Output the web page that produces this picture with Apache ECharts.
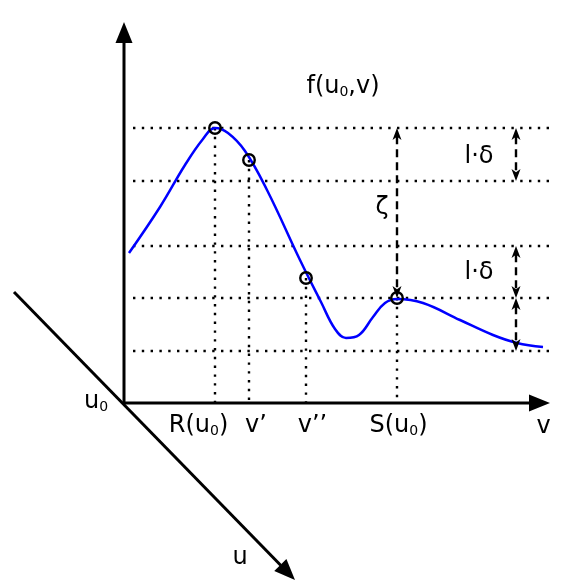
<!DOCTYPE html>
<html><head><meta charset="utf-8">
<script src="https://cdn.jsdelivr.net/npm/echarts@6/dist/echarts.min.js"></script>
<style>html,body{margin:0;padding:0;background:#fff}#c{width:581px;height:581px}</style>
</head><body><div id="c"></div>
<script>
// Diagram units: v to the right of the origin, f upward from the v axis
const curveV = [6,37,62,80,92,105,122,144,177,198,212,223,236,250,262,274,300,337,370,394,420];
const curveF = [150,196,238,264,275,270,252,213,143,101,74,65,68,86,100,104,100,83,68,60,56];

const levels = [275,222,157,105,52];          // dotted horizontal guide levels
const levelFrom = 10, levelTo = 429;

const markV = [92,126,183,274];               // R(u0), v', v'', S(u0)
const markF = [275,243,125,105];

// axis segments [v1,f1,v2,f2] (arrow at second end)
const axisSegs = [[0,0,427,0],[1,0,1,381],[-109,111,172,-177]];
// dashed double arrows [v1,f1,v2,f2]
const dashSegs = [[274,275,274,105],[393,275,393,222],[393,157,393,105],[393,105,393,52]];

// texts
const labelText = ['{m|f(u}{s|0}{m|,v)}','{m|l·δ}','{m|l·δ}','{m|ζ}','{m|u}{s|0}',
                   '{m|R(u}{s|0}{m|)}','{m|v’}','{m|v’’}','{m|S(u}{s|0}{m|)}','{m|v}','{m|u}'];
const labelV = [220,356,356,259,-27,75.5,133,189.5,275.5,420.5,117];
const labelF = [316,246,130,195,1,-23,-23,-23,-23,-24,-155];

const dotted = levels.map(f => [levelFrom, f, levelTo, f])
  .concat(markV.map((v,i) => [v, markF[i], v, 0]));

function segItem(api){
  const p1 = api.coord([api.value(0), api.value(1)]);
  const p2 = api.coord([api.value(2), api.value(3)]);
  return [p1,p2];
}
function head(tip, from, L, W, notch){
  const dx = tip[0]-from[0], dy = tip[1]-from[1];
  const len = Math.hypot(dx,dy); const ux = dx/len, uy = dy/len;
  const nx = -uy, ny = ux;
  const bx = tip[0]-ux*L, by = tip[1]-uy*L;
  const pts = [tip,[bx+nx*W,by+ny*W]];
  if (notch) pts.push([tip[0]-ux*L*notch, tip[1]-uy*L*notch]);
  pts.push([bx-nx*W,by-ny*W]);
  return {pts, base:[tip[0]-ux*L*(notch||1)+ux*0.5, tip[1]-uy*L*(notch||1)+uy*0.5]};
}

const font = 'DejaVu Sans';
const chart = echarts.init(document.getElementById('c'));
chart.setOption({
  animation:false,
  grid:{left:0,right:0,top:0,bottom:0},
  xAxis:{type:'value',min:-123,max:458,show:false},
  yAxis:{type:'value',min:-178,max:403,show:false},
  series:[
    {type:'custom', data:dotted, encode:{x:[0,2],y:[1,3]}, z:1,
     renderItem:(p,api)=>{const [a,b]=segItem(api);
       return {type:'line',shape:{x1:a[0],y1:a[1],x2:b[0],y2:b[1]},
         style:{stroke:'#000',lineWidth:2.4,lineDash:[2.4,6.4],lineCap:'butt'}};}},
    {type:'custom', data:axisSegs, encode:{x:[0,2],y:[1,3]}, z:2,
     renderItem:(p,api)=>{const [a,b]=segItem(api); const h=head(b,a,21,8.5,0);
       return {type:'group',children:[
         {type:'line',shape:{x1:a[0],y1:a[1],x2:h.base[0],y2:h.base[1]},style:{stroke:'#000',lineWidth:3}},
         {type:'polygon',shape:{points:h.pts},style:{fill:'#000'}}]};}},
    {type:'line', data:curveV.map((v,i)=>[v,curveF[i]]), smooth:0.4, symbol:'none', z:3,
     lineStyle:{color:'#0000ff',width:2.5}},
    {type:'scatter', data:markV.map((v,i)=>[v,markF[i]]), symbol:'circle', symbolSize:11.5, z:4,
     itemStyle:{color:'rgba(0,0,0,0)',borderColor:'#000',borderWidth:2.4,opacity:1}},
    {type:'custom', data:dashSegs, encode:{x:[0,2],y:[1,3]}, z:5,
     renderItem:(p,api)=>{const [a,b]=segItem(api);
       const h1=head(b,a,12,4.5,0.72), h2=head(a,b,12,4.5,0.72);
       return {type:'group',children:[
         {type:'line',shape:{x1:h2.base[0],y1:h2.base[1],x2:h1.base[0],y2:h1.base[1]},
          style:{stroke:'#000',lineWidth:2.4,lineDash:[8,5]}},
         {type:'polygon',shape:{points:h1.pts},style:{fill:'#000'}},
         {type:'polygon',shape:{points:h2.pts},style:{fill:'#000'}}]};}},
    {type:'custom', data:labelV.map((v,i)=>[v,labelF[i],i]), encode:{x:0,y:1}, z:6,
     renderItem:(p,api)=>{const c=api.coord([api.value(0),api.value(1)]); const i=api.value(2);
       return {type:'text',x:c[0],y:c[1],style:{text:labelText[i],align:'center',verticalAlign:'middle',
         fill:'#000',
         rich:{m:{fontSize:24,fontFamily:font,color:'#000'},
               s:{fontSize:14,fontFamily:font,color:'#000',verticalAlign:'bottom',lineHeight:17}}}};}}
  ]
});
</script></body></html>
